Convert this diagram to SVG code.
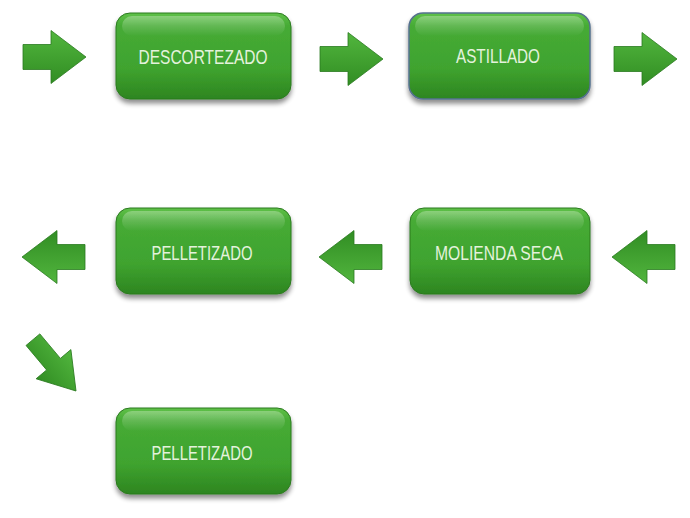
<svg xmlns="http://www.w3.org/2000/svg" width="690" height="518" viewBox="0 0 690 518">
<defs>
<linearGradient id="boxG" x1="0" y1="0" x2="0" y2="1">
<stop offset="0" stop-color="#5fc148"/>
<stop offset="0.15" stop-color="#46ab35"/>
<stop offset="0.65" stop-color="#3fa32f"/>
<stop offset="1" stop-color="#2d8520"/>
</linearGradient>
<linearGradient id="hiG" x1="0" y1="0" x2="0" y2="1">
<stop offset="0" stop-color="#ffffff" stop-opacity="0.3"/>
<stop offset="1" stop-color="#ffffff" stop-opacity="0"/>
</linearGradient>
<linearGradient id="arrG" x1="0" y1="0" x2="0" y2="1">
<stop offset="0" stop-color="#52b63e"/>
<stop offset="1" stop-color="#318d23"/>
</linearGradient>
<filter id="sh" x="-10%" y="-10%" width="120%" height="130%">
<feGaussianBlur in="SourceAlpha" stdDeviation="2.5"/>
<feOffset dx="0" dy="4" result="b"/>
<feComponentTransfer><feFuncA type="linear" slope="0.45"/></feComponentTransfer>
<feMerge><feMergeNode/><feMergeNode in="SourceGraphic"/></feMerge>
</filter>
<path id="arr" d="M0,-12.5 L28,-12.5 L28,-26.5 L63,0 L28,26.5 L28,12.5 L0,12.5 Z"/>
</defs>
<style>
.box{fill:url(#boxG);stroke:#2c7a1f;stroke-width:1;filter:url(#sh)}
.hi{fill:url(#hiG)}
.lbl{font-family:"Liberation Sans",Arial,sans-serif;font-size:21px;fill:#e4f2dc;text-anchor:middle}
.a{fill:url(#arrG);stroke:#2a7a1f;stroke-width:0.8}
</style>
<rect width="690" height="518" fill="#ffffff"/>
<g id="connectors">
<use href="#arr" class="a" transform="translate(23,57)"/>
<use href="#arr" class="a" transform="translate(320,59)"/>
<use href="#arr" class="a" transform="translate(614,59)"/>
<use href="#arr" class="a" transform="translate(85,257) rotate(180)"/>
<use href="#arr" class="a" transform="translate(382,257) rotate(180)"/>
<use href="#arr" class="a" transform="translate(675,257) rotate(180)"/>
<path class="a" transform="translate(76,391) rotate(50)" d="M-67,-9 L-35,-9 L-35,-22.7 L0,0 L-35,22.7 L-35,9 L-67,9 Z"/>
</g>
<g id="n1">
<rect class="box" x="116" y="13" width="175" height="86" rx="14"/>
<rect class="hi" x="122" y="16" width="163" height="20" rx="10"/>
<text class="lbl" x="203" y="64" textLength="129" lengthAdjust="spacingAndGlyphs">DESCORTEZADO</text>
</g>
<g id="n2">
<rect class="box" x="409" y="13" width="181" height="86" rx="14" style="stroke:#56718f;stroke-width:1.5"/>
<rect class="hi" x="415" y="16" width="169" height="20" rx="10"/>
<text class="lbl" x="498" y="63" textLength="84" lengthAdjust="spacingAndGlyphs">ASTILLADO</text>
</g>
<g id="n3">
<rect class="box" x="116" y="208" width="175" height="86" rx="14"/>
<rect class="hi" x="122" y="211" width="163" height="20" rx="10"/>
<text class="lbl" x="202" y="260" textLength="101" lengthAdjust="spacingAndGlyphs">PELLETIZADO</text>
</g>
<g id="n4">
<rect class="box" x="410" y="208" width="180" height="86" rx="14"/>
<rect class="hi" x="416" y="211" width="168" height="20" rx="10"/>
<text class="lbl" x="499" y="260" textLength="128" lengthAdjust="spacingAndGlyphs">MOLIENDA SECA</text>
</g>
<g id="n5">
<rect class="box" x="116" y="408" width="175" height="86" rx="14"/>
<rect class="hi" x="122" y="411" width="163" height="20" rx="10"/>
<text class="lbl" x="202" y="460" textLength="101" lengthAdjust="spacingAndGlyphs">PELLETIZADO</text>
</g>
</svg>
